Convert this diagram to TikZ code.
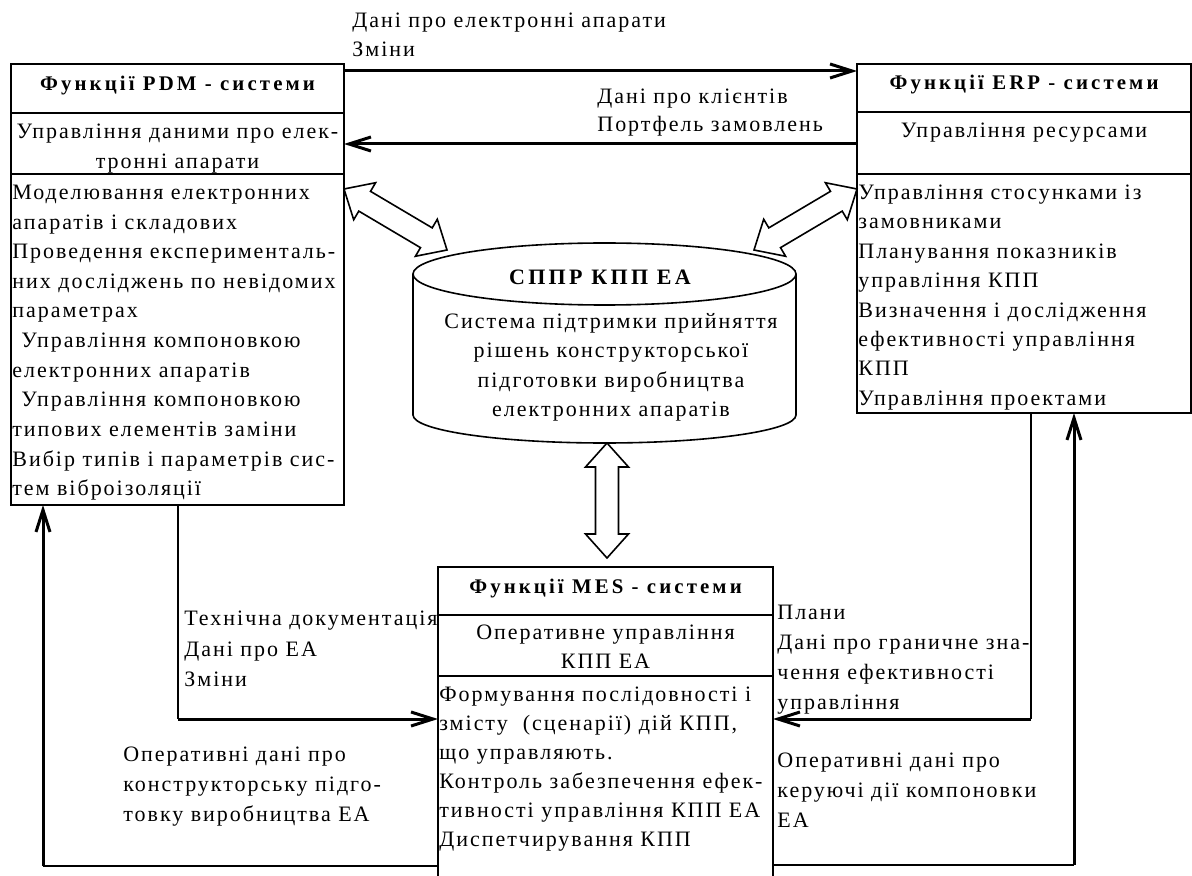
\documentclass[tikz,border=0pt]{standalone}
\usepackage{fontspec}
\setmainfont{Liberation Serif}[LetterSpace=9]
\newfontfamily\hdrfont{Liberation Serif}[LetterSpace=15]
\usetikzlibrary{calc,arrows.meta}
\tikzset{
 box/.style={draw, line width=1pt, inner sep=0pt, outer sep=0pt, anchor=north west},
 txt/.style={inner sep=0pt, text height=0.66em, text depth=0pt, font=\fontsize{11}{13}\selectfont},
 hdr/.style={inner sep=0pt, text height=0.66em, text depth=0pt, font=\hdrfont\bfseries\fontsize{10.4}{12}\selectfont},
 flow/.style={line width=1.5pt, -{Straight Barb[length=11pt,width=7pt]}},
 plain/.style={line width=1pt},
 hollow/.style={draw, line width=0.8pt, fill=white, line join=miter},
}
\newcommand\textlines[6]{%
  \foreach \tl [count=\lineidx from 0] in {#6}{%
    \node[txt, anchor=#2] (#1\lineidx) at (#3, {#4+\lineidx*#5}) {\tl};}}
\newcommand\hollowarrow[2]{%
  \path ($(#1)!12pt!(#2)$) coordinate (ha) ($(#2)!12pt!(#1)$) coordinate (hb);
  \draw[hollow] (#1) -- ($(ha)!10.75pt!90:(#2)$) -- ($(ha)!5.75pt!90:(#2)$)
    -- ($(hb)!5.75pt!-90:(#1)$) -- ($(hb)!10.75pt!-90:(#1)$) -- (#2)
    -- ($(hb)!10.75pt!90:(#1)$) -- ($(hb)!5.75pt!90:(#1)$)
    -- ($(ha)!5.75pt!-90:(#2)$) -- ($(ha)!10.75pt!-90:(#2)$) -- cycle;}
\begin{document}
\begin{tikzpicture}[x=0.5pt, y=-0.5pt]
\fill[white] (0,0) rectangle (1192,876);
\useasboundingbox (0,0) rectangle (1192,876);

% boxes
\node[box, minimum width=166.5pt, minimum height=220.5pt] (pdm) at (11,64) {};
\node[box, minimum width=167pt, minimum height=174.5pt] (erp) at (857,64) {};
\node[box, draw=none, minimum width=167.5pt, minimum height=160pt] (mes) at (438,567) {};
\draw[plain] (mes.south west) -- (mes.north west) -- (mes.north east) -- (mes.south east);

\draw[plain] (pdm.west |- 0,113) -- (pdm.east |- 0,113);
\draw[plain] (pdm.west |- 0,174) -- (pdm.east |- 0,174);
\draw[plain] (erp.west |- 0,112) -- (erp.east |- 0,112);
\draw[plain] (erp.west |- 0,174) -- (erp.east |- 0,174);
\draw[plain] (mes.west |- 0,615) -- (mes.east |- 0,615);
\draw[plain] (mes.west |- 0,676) -- (mes.east |- 0,676);

% cylinder
\node[inner sep=0pt, minimum width=191.5pt, minimum height=100pt] (dss) at (604.5,343) {};
\draw[line width=0.8pt] (604.5,274) ellipse [x radius=95.75pt, y radius=15.5pt];
\draw[line width=0.8pt] (413,274) -- (413,415) arc[start angle=180, end angle=360, x radius=95.75pt, y radius=14pt] -- (796,274);

% texts in PDM
\node[hdr] (pdmh) at (177.5,84) {Функції PDM - системи};
\node[txt] (pdms1) at (177.5,132) {Управління даними про елек-};
\node[txt] (pdms2) at (177.5,162) {тронні апарати};
\textlines{pdmb}{west}{12}{193}{29.6}{Моделювання електронних, апаратів і складових, Проведення експерименталь-, них досліджень по невідомих, параметрах, \hspace{4.5pt}Управління компоновкою, електронних апаратів, \hspace{4.5pt}Управління компоновкою, типових елементів заміни, Вибір типів і параметрів сис-, тем віброізоляції}

% texts in ERP
\node[hdr] (erph) at (1024,83) {Функції ERP - системи};
\node[txt] (erps) at (1024,131) {Управління ресурсами};
\textlines{erpb}{west}{858}{193}{29.4}{Управління стосунками із, замовниками, Планування показників, управління КПП, Визначення і дослідження, ефективності управління, КПП, Управління проектами}

% texts in MES
\node[hdr] (mesh) at (605.5,587) {Функції MES - системи};
\node[txt] (mess1) at (605.5,633) {Оперативне управління};
\node[txt] (mess2) at (605.5,662) {КПП ЕА};
\textlines{mesb}{west}{439}{695}{29}{Формування послідовності і, {змісту\ \ (сценарії) дій КПП,}, що управляють., Контроль забезпечення ефек-, тивності управління КПП ЕА, Диспетчирування КПП}

% texts in cylinder
\node[hdr, font=\hdrfont\bfseries\fontsize{11}{13}\selectfont] (dssh) at (600,278) {СППР КПП ЕА};
\textlines{dssb}{center}{611}{322}{29.3}{Система підтримки прийняття, рішень конструкторської, підготовки виробництва, електронних апаратів}

% connector labels
\textlines{la}{west}{352}{21}{29}{Дані про електронні апарати, Зміни}
\textlines{lb}{west}{597}{97}{28}{Дані про клієнтів, Портфель замовлень}
\textlines{lc}{west}{184}{619}{30.5}{Технічна документація, Дані про ЕА, Зміни}
\textlines{ld}{west}{123}{755}{30}{Оперативні дані про, конструкторську підго-, товку виробництва ЕА}
\textlines{le}{west}{777}{613}{30}{Плани, Дані про граничне зна-, чення ефективності, управління}
\textlines{lf}{west}{777}{761}{30}{Оперативні дані про, керуючі дії компоновки, ЕА}

% connectors
\draw[flow] (pdm.east |- 0,71) -- (erp.west |- 0,71);
\draw[flow] (erp.west |- 0,144) -- (pdm.east |- 0,144);

\coordinate (c1) at (178,719);
\draw[plain] (pdm.south -| c1) -- (c1);
\draw[flow] (c1) -- (mes.west |- c1);
\coordinate (c2) at (43,866);
\draw[plain] (mes.west |- c2) -- (c2);
\draw[flow] (c2) -- (pdm.south -| c2);
\coordinate (c3) at (1031,719);
\draw[plain] (erp.south -| c3) -- (c3);
\draw[flow] (c3) -- (mes.east |- c3);
\coordinate (c4) at (1074,865);
\draw[plain] (mes.east |- c4) -- (c4);
\draw[flow] (c4) -- (erp.south -| c4);

% hollow double arrows
\coordinate (pA) at (pdm.east |- 0,189);
\coordinate (dL) at (447,250);
\coordinate (eA) at (erp.west |- 0,189);
\coordinate (dR) at (754,250);
\coordinate (dB) at (607,443);
\coordinate (mA) at (607,558);
\hollowarrow{pA}{dL}
\hollowarrow{eA}{dR}
\hollowarrow{dB}{mA}
\end{tikzpicture}
\end{document}
